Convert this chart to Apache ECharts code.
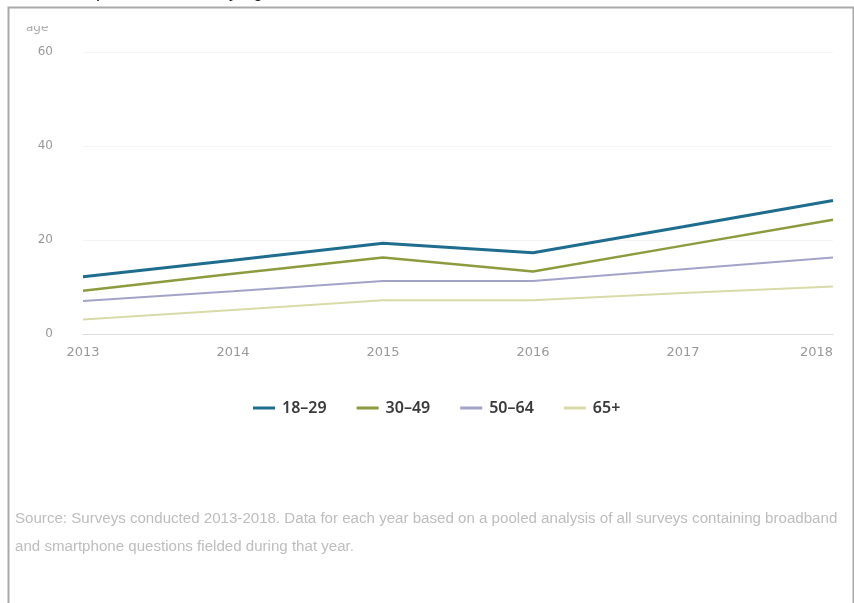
<!DOCTYPE html>
<html>
<head>
<meta charset="utf-8">
<script src="https://cdn.jsdelivr.net/npm/echarts@6/dist/echarts.min.js"></script>
<style>
html,body{margin:0;padding:0;background:#fff;}
#chart{width:854px;height:603px;}
</style>
</head>
<body>
<div id="chart"></div>
<script>
const years = ['2013', '2014', '2015', '2016', '2017', '2018'];
const seriesNames = ['18–29', '30–49', '50–64', '65+'];
const age18to29 = [12.2, 15.7, 19.3, 17.3, 22.8, 28.4];
const age30to49 = [9.2, 12.8, 16.3, 13.3, 18.8, 24.3];
const age50to64 = [7.0, 9.1, 11.3, 11.3, 13.8, 16.3];
const age65plus = [3.1, 5.1, 7.2, 7.2, 8.7, 10.1];
const yTicks = [0, 20, 40, 60];
const titleFragment = '% of smartphone owners, by age';
const axisNameFragment = 'age';
const sourceLine1 = 'Source: Surveys conducted 2013-2018. Data for each year based on a pooled analysis of all surveys containing broadband';
const sourceLine2 = 'and smartphone questions fielded during that year.';

const colors = ['#1f6d8e', '#8e9a3e', '#a2a3c9', '#d8dba8'];
const widths = [3, 2.5, 2, 2];
const values = [age18to29, age30to49, age50to64, age65plus];

const chart = echarts.init(document.getElementById('chart'), null, {renderer: 'canvas'});
chart.setOption({
  animation: false,
  backgroundColor: 'transparent',
  grid: {left: 83, right: 21, top: 52, bottom: 269, containLabel: false},
  legend: {
    top: 395,
    left: 248,
    icon: 'rect',
    itemWidth: 22,
    itemHeight: 3,
    itemGap: 30,
    data: seriesNames,
    textStyle: {fontFamily: 'Noto Sans', fontSize: 16, fontWeight: 600, color: '#3a3a3a', padding: [0, 0, 0, 2]}
  },
  xAxis: {
    type: 'category',
    data: years,
    boundaryGap: false,
    axisLine: {show: true, lineStyle: {color: '#dddddd', width: 1}},
    axisTick: {show: false},
    axisLabel: {margin: 12, fontFamily: 'DejaVu Sans', fontSize: 13, color: '#999999', alignMaxLabel: 'right'},
    splitLine: {show: false}
  },
  yAxis: {
    type: 'value',
    min: yTicks[0],
    max: yTicks[yTicks.length - 1],
    interval: 20,
    axisLine: {show: false},
    axisTick: {show: false},
    axisLabel: {margin: 30, fontFamily: 'DejaVu Sans', fontSize: 12, color: '#999999'},
    splitLine: {show: true, lineStyle: {color: '#f4f4f4', width: 1}}
  },
  series: seriesNames.map((name, i) => ({
    name: name,
    type: 'line',
    data: values[i],
    showSymbol: false,
    symbol: 'none',
    lineStyle: {color: colors[i], width: widths[i]},
    itemStyle: {color: colors[i]},
    z: 10 - i
  })),
  graphic: [
    {
      type: 'text', left: 10, top: -17, z: 100,
      style: {text: titleFragment, fontFamily: 'Liberation Sans', fontSize: 18, fill: '#111111'}
    },
    {
      type: 'text', left: 26, top: 22, z: 100,
      style: {text: axisNameFragment, fontFamily: 'DejaVu Sans', fontSize: 12, fill: '#aaaaaa'}
    },
    {
      type: 'rect', z: 101,
      shape: {x: 10, y: 9, width: 60, height: 17},
      style: {fill: '#ffffff'}
    },
    {
      type: 'rect', z: 102,
      shape: {x: 8.5, y: 7.5, width: 845, height: 640},
      style: {fill: 'none', stroke: '#a9a9a9', lineWidth: 2}
    },
    {
      type: 'text', left: 15, top: 511, z: 100,
      style: {text: sourceLine1, fontFamily: 'Liberation Sans', fontSize: 15.1, fill: '#bdbdbd'}
    },
    {
      type: 'text', left: 15, top: 539, z: 100,
      style: {text: sourceLine2, fontFamily: 'Liberation Sans', fontSize: 15.1, fill: '#bdbdbd'}
    }
  ]
});
</script>
</body>
</html>
